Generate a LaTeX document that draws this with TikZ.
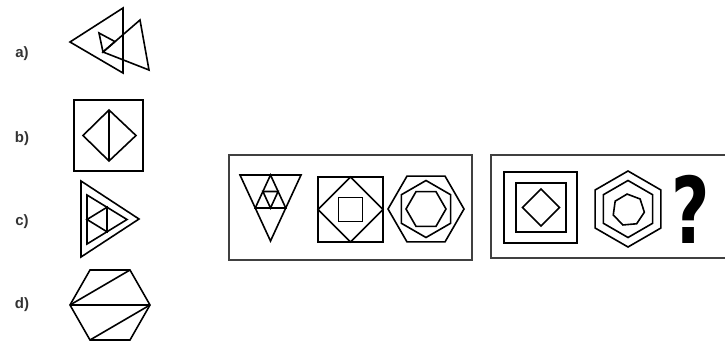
\documentclass[tikz,border=0pt]{standalone}
\usepackage{fontspec}
\setmainfont{Liberation Sans}
\newfontfamily\qfont{DejaVu Sans}
\begin{document}
\begin{tikzpicture}[x=1pt,y=-1pt,
  shp/.style={draw=black,line width=1.6pt,line join=miter},
  frame/.style={draw=black!75,line width=1.8pt},
  lbl/.style={font=\fontsize{15}{17}\selectfont\bfseries,text=black!80,inner sep=0pt}]
\useasboundingbox (0,0) rectangle (725,343);
% labels
\node[lbl] (la) at (22,54) {a)};
\node[lbl] (lb) at (22,139) {b)};
\node[lbl] (lc) at (22,222) {c)};
\node[lbl] (ld) at (22,305) {d)};
% a)
\draw[shp] (70,42) -- (123,8) -- (123,73) -- cycle;
\draw[shp] (103,52) -- (140,20) -- (149,70) -- cycle;
\draw[shp] (99,33) -- (103,52) -- (115,41.6) -- cycle;
% b)
\draw[shp] (74,100) rectangle (143,171);
\draw[shp] (83,135.5) -- (109,110) -- (136,135.5) -- (109,161) -- cycle;
\draw[shp] (109,110) -- (109,161);
% c)
\draw[shp] (81,181) -- (139,219) -- (81,257) -- cycle;
\draw[shp] (87,195) -- (127,219.5) -- (87,244) -- cycle;
\draw[shp] (87,219.5) -- (107,207.25) -- (107,231.75) -- cycle;
% d)
\draw[shp] (70,305) -- (90,270) -- (130,270) -- (150,305) -- (130,340) -- (90,340) -- cycle;
\draw[shp] (70,305) -- (130,270);
\draw[shp] (70,305) -- (150,305);
\draw[shp] (150,305) -- (90,340);
% box 1
\draw[frame] (229,155) rectangle (472,260);
\draw[shp] (240,175) -- (301,175) -- (270.5,241) -- cycle;
\draw[shp] (255.25,208) -- (270.5,175) -- (285.75,208) -- cycle;
\draw[shp] (262.9,191.5) -- (278.1,191.5) -- (270.5,208) -- cycle;
\draw[shp] (318,177) rectangle (383,242);
\draw[shp] (318,209.5) -- (350.5,177) -- (383,209.5) -- (350.5,242) -- cycle;
\draw[shp] (338.5,197.5) rectangle (362.5,221.5);
\draw[shp] (426,209) ++(0:38) -- ++(120:38) -- ++(180:38) -- ++(240:38) -- ++(300:38) -- ++(0:38) -- cycle;
\draw[shp] (426,209) ++(90:28.5) -- ++(-150:28.5) -- ++(-90:28.5) -- ++(-30:28.5) -- ++(30:28.5) -- ++(90:28.5) -- cycle;
\draw[shp] (426,209) ++(0:20) -- ++(120:20) -- ++(180:20) -- ++(240:20) -- ++(300:20) -- ++(0:20) -- cycle;
% box 2
\draw[frame] (491,155) rectangle (730,258);
\draw[shp] (504,172) rectangle (577,243);
\draw[shp] (516,183) rectangle (566,232);
\draw[shp] (522.5,207.5) -- (541,189) -- (559.5,207.5) -- (541,226) -- cycle;
\draw[shp] (628,209) ++(90:38) -- ++(-150:38) -- ++(-90:38) -- ++(-30:38) -- ++(30:38) -- ++(90:38) -- cycle;
\draw[shp] (628,209) ++(90:28.5) -- ++(-150:28.5) -- ++(-90:28.5) -- ++(-30:28.5) -- ++(30:28.5) -- ++(90:28.5) -- cycle;
\draw[shp] (628.5,210) +(-95:16) -- +(-146.4:16) -- +(-197.9:16) -- +(-249.3:16) -- +(-300.7:16) -- +(-352.1:16) -- +(-403.6:16) -- cycle;
\node[inner sep=0pt,xscale=0.72] (qm) at (691,209) {\qfont\fontsize{92}{92}\selectfont\bfseries ?};
\end{tikzpicture}
\end{document}
